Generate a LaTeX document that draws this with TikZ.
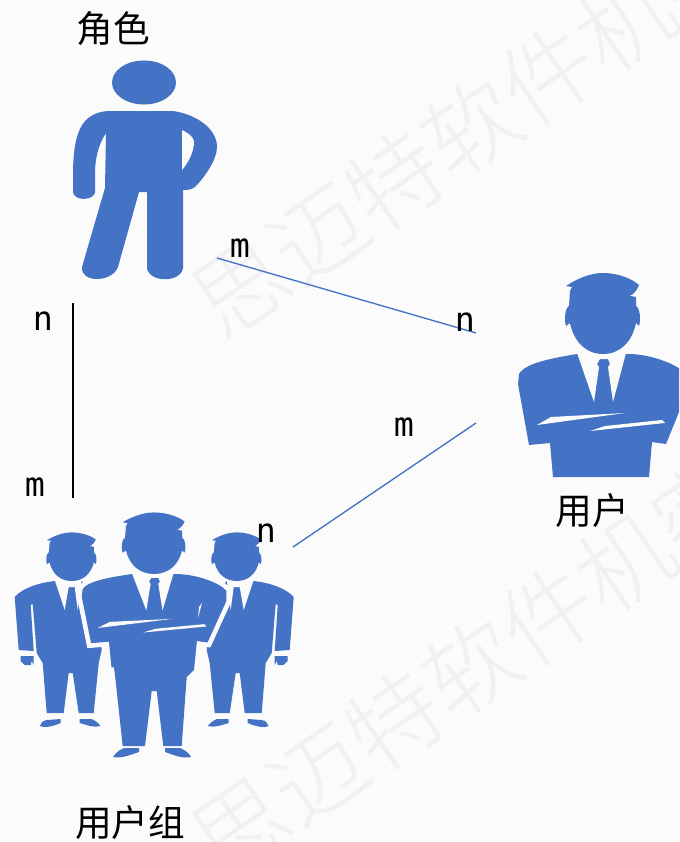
\documentclass[tikz,border=0pt]{standalone}
\usepackage{fontspec}
\setmonofont{DejaVu Sans Mono}
\newfontfamily\cjklabel{Noto Sans CJK SC}
\newfontfamily\cjkmark[UprightFont=* Light]{Noto Sans CJK SC}

\definecolor{manblue}{HTML}{4472C4}
\definecolor{pagebg}{HTML}{FBFBFB}
\definecolor{markgray}{HTML}{F1F1F1}

\tikzset{
  cardlabel/.style={inner sep=0.75pt,font=\ttfamily\fontsize{25}{25}\selectfont},
  namelabel/.style={inner sep=0.75pt,font=\cjklabel\fontsize{27.5}{27.5}\selectfont},
  marklabel/.style={inner sep=0pt,rotate=34.6,text=markgray,font=\cjkmark\fontsize{70}{70}\selectfont}
}

\newcommand{\manhead}{
  \fill [manblue] (-37,-68) .. controls (-25,-76) and (-12,-81) .. (0,-81) .. controls (14,-81) and (28,-76) .. (36,-69) .. controls (32,-60) and (28,-57) .. (20,-57) -- (7,-62) -- (33,-57) -- (33,-48) .. controls (37,-46) and (38,-34) .. (36,-28) -- (33,-31) .. controls (29,-12) and (17,0) .. (0,0) .. controls (-17,0) and (-29,-12) .. (-33,-31) -- (-37,-28) .. controls (-39,-34) and (-38,-46) .. (-34,-48) -- (-33,-63) -- (-31,-67) -- cycle ;
}
\newcommand{\mantorso}{
  \fill [manblue,preaction={draw=pagebg,line width=7pt}] (-26,0) .. controls (-50,4) and (-78,9) .. (-84,20) -- (-85,30) -- (-74,91) -- (-53,89) -- (-50,123) -- (46,123) -- (49,88) -- (63,90) -- (85,36) -- (85,22) .. controls (78,12) and (50,0) .. (25,0) -- cycle ;
  \fill [pagebg] (-26,-1) -- (-9,48) -- (-4,13) -- (-6,10) -- (-3,5) -- (5,5) -- (7,10) -- (5,13) -- (10,48) -- (23,-1) -- cycle ;
  \fill [pagebg] (-66,71) -- (-52,63) -- (22,59) -- cycle ;
  \fill [pagebg] (-13,77) -- (2,72) -- (59,66) -- (62,69) -- cycle ;
}
\newcommand{\sidebody}{
  \fill [manblue] (-17,0) .. controls (-35,2) and (-50,8) .. (-57,16) -- (-53,69) -- (-38,70) -- (-41,24) -- (-39,23) -- (-35,72) -- (-29,82) -- (-25,132) -- (-8,132) -- (-3,92) -- (1,92) -- (7,132) -- (22,132) -- (27,82) -- (30,69) -- (25,19) -- (10,0) -- cycle ;
  \fill [pagebg] (-17,-1) -- (-7,29) -- (-3,6) -- (3,6) -- (6,29) -- (10,-1) -- cycle ;
  \fill [manblue] (-51,75) -- (-38,75) -- (-38,84) -- (-40,80) -- (-41,84) -- (-47,84) -- (-51,80) -- cycle ;
  \fill [manblue] (-32,145) .. controls (-29,140) and (-28,139) .. (-25,139) -- (-11,138) -- (-11,142) .. controls (-20,146) and (-28,147) .. (-32,145) -- cycle ;
  \fill [manblue] (8,138) -- (20,138) .. controls (24,140) and (27,142) .. (29,145) .. controls (22,147) and (15,144) .. (8,142) -- cycle ;
}

\begin{document}
\begin{tikzpicture}[x=0.75pt,y=0.75pt,yscale=-1,xscale=1]
\useasboundingbox (0,0) rectangle (679,842);
\clip (0,0) rectangle (679,842);
\fill [pagebg] (0,0) rectangle (679,842);

% Watermark
\draw (471,128) node (markTop) [marklabel] {思迈特软件机密};
\draw (471,668) node (markBottom) [marklabel] {思迈特软件机密};
\draw (-285,700) node (markLeft) [marklabel] {思迈特软件机密};

%Shape: Role head
\fill [manblue] (144,82.5) ellipse (32 and 22);
%Shape: Role body
\fill [manblue] (108,111) -- (173,111) .. controls (195,114) and (217,128) .. (217,147) .. controls (217,160) and (204,178) .. (195,187) .. controls (191,190) and (187,190) .. (183,190) -- (183,268) .. controls (181,283) and (149,283) .. (147,268) -- (147,192) -- (139,192) -- (118,267) .. controls (112,283) and (80,283) .. (82,267) -- (105,188) -- (106,133) .. controls (98,145) and (95,160) .. (95,173) -- (95,193) .. controls (92,201) and (74,201) .. (73,192) -- (73,170) .. controls (74,135) and (80,113) .. (108,111) -- cycle ;
\fill [pagebg] (182,130) .. controls (190,134) and (194,138) .. (194,142) .. controls (194,152) and (188,163) .. (182,170) -- cycle ;

%Shape: User
\begin{scope}[shift={(603,354)}]
\mantorso
\manhead
\end{scope}

%Shape: Group, side men
\begin{scope}[shift={(71.7,581)}]
\sidebody
\end{scope}
\begin{scope}[shift={(236.7,581)},xscale=-1]
\sidebody
\end{scope}
\begin{scope}[shift={(71.7,581)},xscale=0.67,yscale=0.6]
\manhead
\end{scope}
\begin{scope}[shift={(236.7,581)},xscale=0.67,yscale=0.6]
\manhead
\end{scope}

%Shape: Group, middle man
\begin{scope}[shift={(154,574)},xscale=0.85,yscale=0.76]
\mantorso
\end{scope}
\fill [manblue] (110,640) -- (115,675) -- (122.7,746) -- (145,746) -- (151.7,691) -- (156.7,691) -- (163.3,746) -- (181.7,746) -- (186.7,677) -- (194,670) -- (197,640) -- cycle ;
\fill [pagebg] (202,603) -- (198,618) -- (199,607) -- cycle ;
\fill [manblue] (113,757) .. controls (117,751) and (122,748) .. (126,748) -- (139,748) -- (139,752) .. controls (130,755) and (120,759) .. (113,757) -- cycle ;
\fill [manblue] (165,748) -- (180,748) .. controls (185,750) and (189,753) .. (191,757) .. controls (182,759) and (174,755) .. (165,752) -- cycle ;
\begin{scope}[shift={(154,574)},xscale=0.85,yscale=0.76]
\manhead
\end{scope}

%Straight Lines
\coordinate (roleBlue) at (217,258);
\coordinate (userTop) at (476,333);
\coordinate (userLow) at (476,423);
\coordinate (groupBlue) at (293,547);
\coordinate (roleBlack) at (73,303);
\coordinate (groupBlack) at (73,498);
\draw [color=manblue,line width=1] (roleBlue) -- (userTop) ;
\draw [color=manblue,line width=1] (userLow) -- (groupBlue) ;
\draw [line width=1] (roleBlack) -- (groupBlack) ;

% Text Node
\draw (113,29) node (roleName) [namelabel] {角色};
% Text Node
\draw (592,511) node (userName) [namelabel] {用户};
% Text Node
\draw (130,823) node (groupName) [namelabel] {用户组};
% Text Node
\draw (240,248) node (roleBlueEnd) [cardlabel] {m};
% Text Node
\draw (465,322) node (userTopEnd) [cardlabel] {n};
% Text Node
\draw (404,427) node (userLowEnd) [cardlabel] {m};
% Text Node
\draw (266,533) node (groupBlueEnd) [cardlabel] {n};
% Text Node
\draw (43,321) node (roleBlackEnd) [cardlabel] {n};
% Text Node
\draw (35,487) node (groupBlackEnd) [cardlabel] {m};

\end{tikzpicture}
\end{document}
